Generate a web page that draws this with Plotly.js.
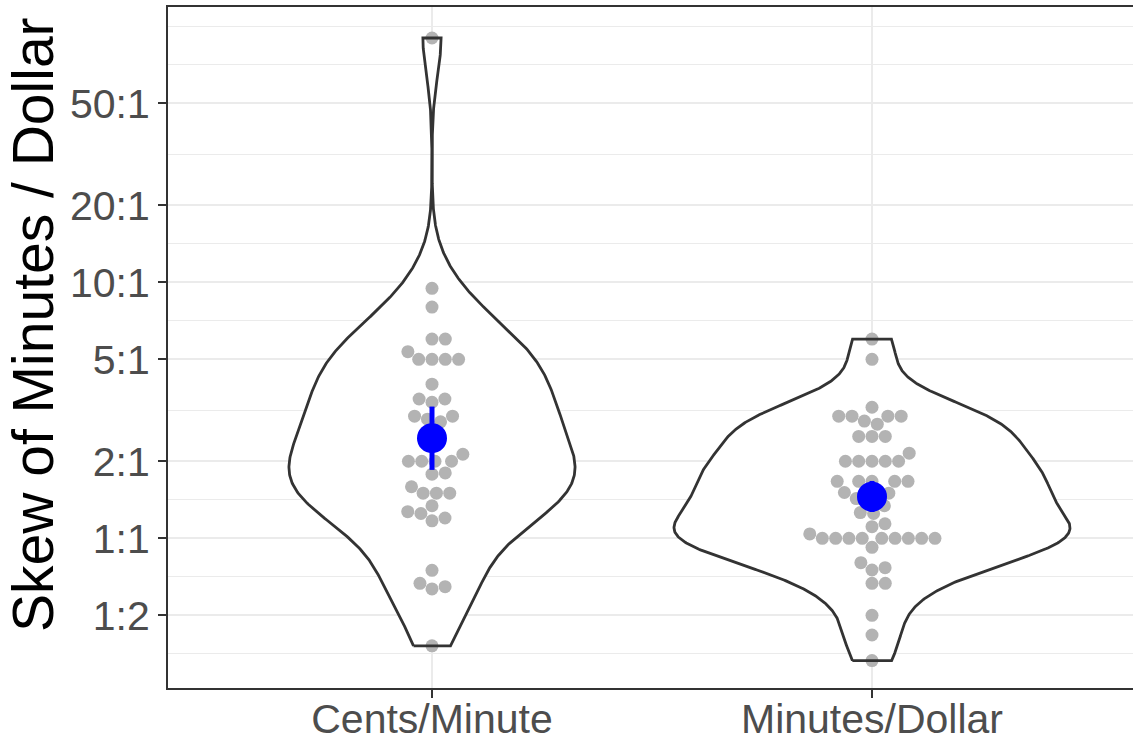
<!DOCTYPE html>
<html><head><meta charset="utf-8">
<script src="https://cdn.plot.ly/plotly-3.0.1.min.js"></script>
<style>html,body{margin:0;padding:0;overflow:hidden;background:#fff}</style>
</head><body><div id="chart" style="width:1136px;height:742px"></div>
<script>
// ---- data ----
const categories = ["Cents/Minute", "Minutes/Dollar"];
const centsPerMinute = [90, 9.47, 8.0, 6.0, 6.0, 5.36, 5.0, 5.0, 5.0, 5.0, 4.0, 3.5, 3.5, 3.4,
  3.0, 3.0, 2.92, 2.85, 2.6, 2.13, 2.0, 2.0, 2.0, 2.0, 1.8, 1.78, 1.59, 1.5, 1.5, 1.5,
  1.34, 1.27, 1.25, 1.2, 1.17, 0.75, 0.667, 0.647, 0.634, 0.38];
const minutesPerDollar = [6, 5, 3.25, 3, 3, 3, 3, 2.87, 2.79, 2.5, 2.5, 2.5, 2.15, 2, 2, 2, 2, 2,
  1.67, 1.67, 1.67, 1.67, 1.67, 1.51, 1.5, 1.43, 1.4, 1.34, 1.26, 1.25, 1.14, 1.11, 1.04,
  1, 1, 1, 1, 1, 1, 1, 1, 1, 0.922, 0.803, 0.768, 0.752, 0.667, 0.667, 0.5, 0.419, 0.333];
const meanValues = [2.46, 1.454];
const ciLower = [1.85, 1.267];
const ciUpper = [3.27, 1.675];
const yTickValues = [0.5, 1, 2, 5, 10, 20, 50];
const yTickLabels = ["1:2", "1:1", "2:1", "5:1", "10:1", "20:1", "50:1"];

// ---- layout geometry ----
const W = 1136, H = 742;
const margin = {l: 168, r: 0, t: 7, b: 54};
const xRange = [-0.6, 1.6];
const yRange = [-0.5848, 2.0754];
const plotW = W - margin.l - margin.r, plotH = H - margin.t - margin.b;
const pxPerX = plotW / (xRange[1] - xRange[0]);
const pxPerDec = plotH / (yRange[1] - yRange[0]);

const groups = [centsPerMinute, minutesPerDollar];

// ---- KDE (gaussian, bw.nrd0, on log10 scale, trimmed) ----
function quantile7(sorted, p) {
  const h = (sorted.length - 1) * p, lo = Math.floor(h), hi = Math.ceil(h);
  return sorted[lo] + (h - lo) * (sorted[hi] - sorted[lo]);
}
function bwNrd0(x) {
  const n = x.length, m = x.reduce((a, b) => a + b, 0) / n;
  const sd = Math.sqrt(x.reduce((a, b) => a + (b - m) * (b - m), 0) / (n - 1));
  const s = x.slice().sort((a, b) => a - b);
  const iqr = quantile7(s, 0.75) - quantile7(s, 0.25);
  let lo = Math.min(sd, iqr / 1.34);
  if (!(lo > 0)) lo = sd || Math.abs(s[0]) || 1;
  return 0.9 * lo * Math.pow(n, -0.2);
}
function kde(x) {
  const bw = bwNrd0(x), n = x.length;
  const mn = Math.min(...x), mx = Math.max(...x), N = 512;
  const t = [], d = [];
  for (let i = 0; i < N; i++) {
    const ti = mn + (mx - mn) * i / (N - 1);
    let s = 0;
    for (const xi of x) { const z = (ti - xi) / bw; s += Math.exp(-0.5 * z * z); }
    t.push(ti); d.push(s / (n * bw * Math.sqrt(2 * Math.PI)));
  }
  return {t, d};
}
const logs = groups.map(g => g.map(v => Math.log10(v)));
const dens = logs.map(kde);
const maxD = Math.max(...dens.map(o => Math.max(...o.d)));

// ---- beeswarm (swarm method, ascending priority) in pixel space ----
function swarm(logVals, dsize) {
  const idx = logVals.map((v, i) => i).sort((a, b) => logVals[a] - logVals[b]);
  const placed = [];
  const off = new Array(logVals.length).fill(0);
  for (const i of idx) {
    const xi = logVals[i] * pxPerDec / dsize;
    let pre = placed.filter(p => Math.abs(xi - p.x) < 1);
    let y = 0;
    if (pre.length) {
      pre = pre.slice().sort((a, b) => Math.abs(a.y) - Math.abs(b.y));
      const offs = pre.map(p => Math.sqrt(1 - (xi - p.x) * (xi - p.x)));
      let cand = [0].concat(pre.map((p, k) => p.y + offs[k]), pre.map((p, k) => p.y - offs[k]));
      cand = cand.map(c => pre.some(p => (xi - p.x) ** 2 + (c - p.y) ** 2 < 0.999) ? Infinity : c);
      let best = 0, bestA = Infinity;
      cand.forEach(c => { if (Math.abs(c) < bestA) { bestA = Math.abs(c); best = c; } });
      y = best;
    }
    placed.push({x: xi, y});
    off[i] = y * dsize;
  }
  return off;
}
const dsize = 13.3;

const traces = [];
const polys = [];
// violin fills
groups.forEach((g, k) => {
  const {t, d} = dens[k];
  const xs = [], ys = [];
  for (let i = 0; i < t.length; i++) { xs.push(k - d[i] / maxD * 0.45); ys.push(Math.pow(10, t[i])); }
  for (let i = t.length - 1; i >= 0; i--) { xs.push(k + d[i] / maxD * 0.45); ys.push(Math.pow(10, t[i])); }
  xs.push(xs[0]); ys.push(ys[0]);
  traces.push({type: 'scatter', mode: 'lines', x: xs, y: ys, fill: 'toself', fillcolor: '#ffffff',
    line: {width: 0, color: 'rgba(0,0,0,0)'}, hoverinfo: 'skip', showlegend: false});
  polys.push({xs, ys});
});
// points
groups.forEach((g, k) => {
  const off = swarm(logs[k], dsize);
  traces.push({type: 'scatter', mode: 'markers', x: off.map(o => k + o / pxPerX), y: g,
    marker: {color: '#B3B3B3', size: 13, line: {width: 0}}, hoverinfo: 'y', showlegend: false});
});
// violin outlines
polys.forEach(p => {
  traces.push({type: 'scatter', mode: 'lines', x: p.xs, y: p.ys,
    line: {color: '#333333', width: 2.8}, hoverinfo: 'skip', showlegend: false});
});
// mean + CI
categories.forEach((c, k) => {
  traces.push({type: 'scatter', mode: 'lines', x: [k, k], y: [ciLower[k], ciUpper[k]],
    line: {color: '#0000FF', width: 5}, hoverinfo: 'skip', showlegend: false});
});
traces.push({type: 'scatter', mode: 'markers', x: categories.map((c, k) => k), y: meanValues,
  marker: {color: '#0000FF', size: 30}, showlegend: false});

const tickFont = {family: 'Liberation Sans, Arial, Helvetica, sans-serif', size: 41, color: '#4D4D4D'};
const layout = {
  width: W, height: H, margin: margin, paper_bgcolor: '#fff', plot_bgcolor: '#fff',
  showlegend: false,
  xaxis: {range: xRange, tickmode: 'array', tickvals: [0, 1], ticktext: categories,
    showgrid: true, gridcolor: '#EBEBEB', gridwidth: 2, zeroline: false,
    ticks: 'outside', ticklen: 8, tickwidth: 2, tickcolor: '#333333', ticklabelstandoff: -14,
    showline: true, mirror: true, linecolor: '#333333', linewidth: 2, tickfont: tickFont},
  yaxis: {type: 'log', range: yRange, tickmode: 'array', tickvals: yTickValues, ticktext: yTickLabels,
    showgrid: true, gridcolor: '#EBEBEB', gridwidth: 2, zeroline: false,
    ticks: 'outside', ticklen: 8, tickwidth: 2, tickcolor: '#333333',
    showline: true, mirror: true, linecolor: '#333333', linewidth: 2, tickfont: tickFont,
    minor: {tickmode: 'array', tickvals: [0.3536, 0.7071, 1.4142, 3.1623, 7.0711, 14.142, 31.623, 70.711, 100],
      showgrid: true, gridcolor: '#EBEBEB', gridwidth: 1, ticks: ''}},
  annotations: [{text: 'Skew of Minutes / Dollar', xref: 'paper', yref: 'paper',
    x: (33 - margin.l) / plotW, y: (H - margin.b - 325) / plotH, xanchor: 'center', yanchor: 'middle',
    textangle: -90, showarrow: false,
    font: {family: 'Liberation Sans, Arial, Helvetica, sans-serif', size: 57, color: '#000000'}}]
};
Plotly.newPlot('chart', traces, layout, {displayModeBar: false, staticPlot: true});
</script></body></html>
